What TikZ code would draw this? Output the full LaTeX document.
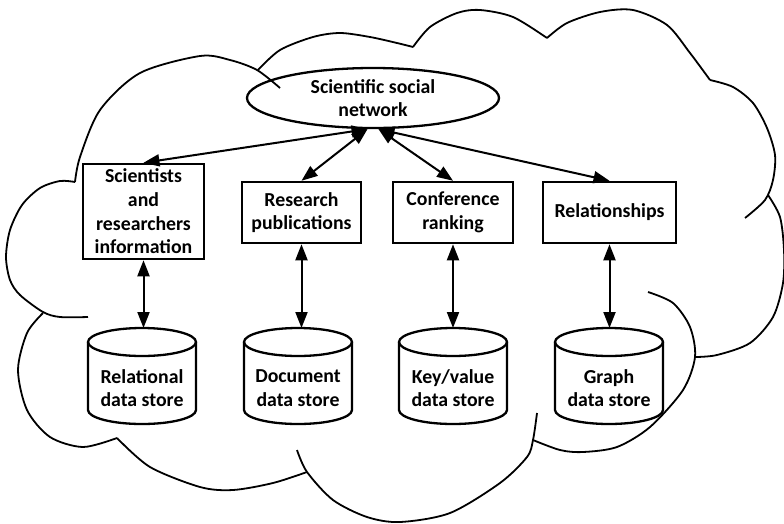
\documentclass[tikz,border=0pt]{standalone}
\usepackage{fontspec}
\setmainfont{Carlito}
\usetikzlibrary{arrows.meta,shapes.geometric}

\begin{document}
\begin{tikzpicture}[scale=1.000000,x=1pt,y=1pt,
  cloudline/.style={line width=1.8pt},
  labelfont/.style={font=\fontsize{19.8}{23.7}\selectfont\bfseries},
  netnode/.style={draw,ellipse,line width=2.3pt,inner sep=0pt,align=center,labelfont,
    minimum width=252pt,minimum height=60pt},
  infobox/.style={draw,rectangle,line width=2.5pt,inner sep=0pt,align=center,labelfont},
  storeline/.style={line width=2.3pt},
  storetext/.style={inner sep=0pt,align=center,labelfont},
  >={Triangle[length=16pt,width=12pt]},
  link/.style={<->,line width=2pt}]
\useasboundingbox (0,-523) rectangle (784,0);
% Drawing the cloud, one lobe at a time
\draw[cloudline] plot[smooth] coordinates {(75,-182) (80,-157) (100,-110) (140,-73) (200,-56) (230,-60) (257,-70) (280,-88)};
\draw[cloudline] plot[smooth] coordinates {(258,-70) (280,-50) (313,-37) (340,-33) (370,-37) (397,-43) (413,-47)};
\draw[cloudline] plot[smooth] coordinates {(413,-47) (430,-27) (457,-13) (480,-10) (513,-17) (547,-38)};
\draw[cloudline] plot[smooth] coordinates {(547,-38) (567,-23) (600,-12) (633,-10) (667,-25) (690,-53) (710,-80)};
\draw[cloudline] plot[smooth] coordinates {(710,-80) (733,-87) (753,-103) (767,-128) (775,-155) (773,-180) (765,-200) (745,-218)};
\draw[cloudline] plot[smooth] coordinates {(768,-195) (780,-217) (784,-250) (783,-283) (773,-317) (750,-343) (717,-355) (695,-357)};
\draw[cloudline] plot[smooth] coordinates {(648,-292) (673,-303) (690,-327) (695,-357) (683,-390) (650,-427) (617,-447) (583,-452) (560,-450) (533,-440)};
\draw[cloudline] plot[smooth] coordinates {(297,-450) (307,-472) (333,-500) (367,-517) (400,-522) (450,-513) (500,-483) (527,-457) (533,-440) (537,-413)};
\draw[cloudline] plot[smooth] coordinates {(307,-472) (273,-483) (233,-490) (200,-487) (150,-467) (117,-438)};
\draw[cloudline] plot[smooth] coordinates {(117,-438) (83,-447) (50,-437) (27,-410) (18,-370) (27,-333) (43,-313)};
\draw[cloudline] plot[smooth] coordinates {(75,-182) (60,-181) (40,-188) (22,-205) (10,-230) (6,-257) (10,-280) (20,-295) (43,-312) (60,-317) (88,-317)};
% Done with cloud; drawing the network and the four boxes
\node[netnode] (snet) at (373,-98) {Scientific social\\network};
\node[infobox,minimum width=121pt,minimum height=95pt] (sci) at (143.5,-211.5) {Scientists\\and\\researchers\\information};
\node[infobox,minimum width=119pt,minimum height=61pt] (pub) at (301.5,-212.5) {Research\\publications};
\node[infobox,minimum width=120pt,minimum height=61pt] (conf) at (453,-212.5) {Conference\\ranking};
\node[infobox,minimum width=133pt,minimum height=61pt] (rel) at (609.5,-212.5) {Relationships};
% Drawing data stores
% Store 1: Relational
\draw[storeline] (88,-342) -- (88,-410) arc[start angle=180,end angle=360,x radius=54,y radius=14] -- (196,-342);
\draw[storeline] (142,-342) ellipse[x radius=54,y radius=14];
\node[storetext] (rds) at (142,-388) {Relational\\data store};
\coordinate (rdstop) at (142,-328);
% Store 2: Document
\draw[storeline] (244,-342) -- (244,-410) arc[start angle=180,end angle=360,x radius=54,y radius=14] -- (352,-342);
\draw[storeline] (298,-342) ellipse[x radius=54,y radius=14];
\node[storetext] (dds) at (298,-388) {Document\\data store};
\coordinate (ddstop) at (298,-328);
% Store 3: Key/value
\draw[storeline] (399,-342) -- (399,-410) arc[start angle=180,end angle=360,x radius=54,y radius=14] -- (507,-342);
\draw[storeline] (453,-342) ellipse[x radius=54,y radius=14];
\node[storetext] (kds) at (453,-388) {Key/value\\data store};
\coordinate (kdstop) at (453,-328);
% Store 4: Graph
\draw[storeline] (555,-342) -- (555,-410) arc[start angle=180,end angle=360,x radius=54,y radius=14] -- (663,-342);
\draw[storeline] (609,-342) ellipse[x radius=54,y radius=14];
\node[storetext] (gds) at (609,-388) {Graph\\data store};
\coordinate (gdstop) at (609,-328);
% Done with stores; drawing links
\draw[link] (snet.-100) -- (sci.north);
\draw[link] (snet.-100) -- (pub.north);
\draw[link] (snet.-80) -- (conf.north);
\draw[link] (snet.-80) -- (rel.north);
\draw[link] (sci.south) -- (sci.south |- rdstop);
\draw[link] (pub.south) -- (pub.south |- ddstop);
\draw[link] (conf.south) -- (conf.south |- kdstop);
\draw[link] (rel.south) -- (rel.south |- gdstop);
% Done with links
\end{tikzpicture}
\end{document}
